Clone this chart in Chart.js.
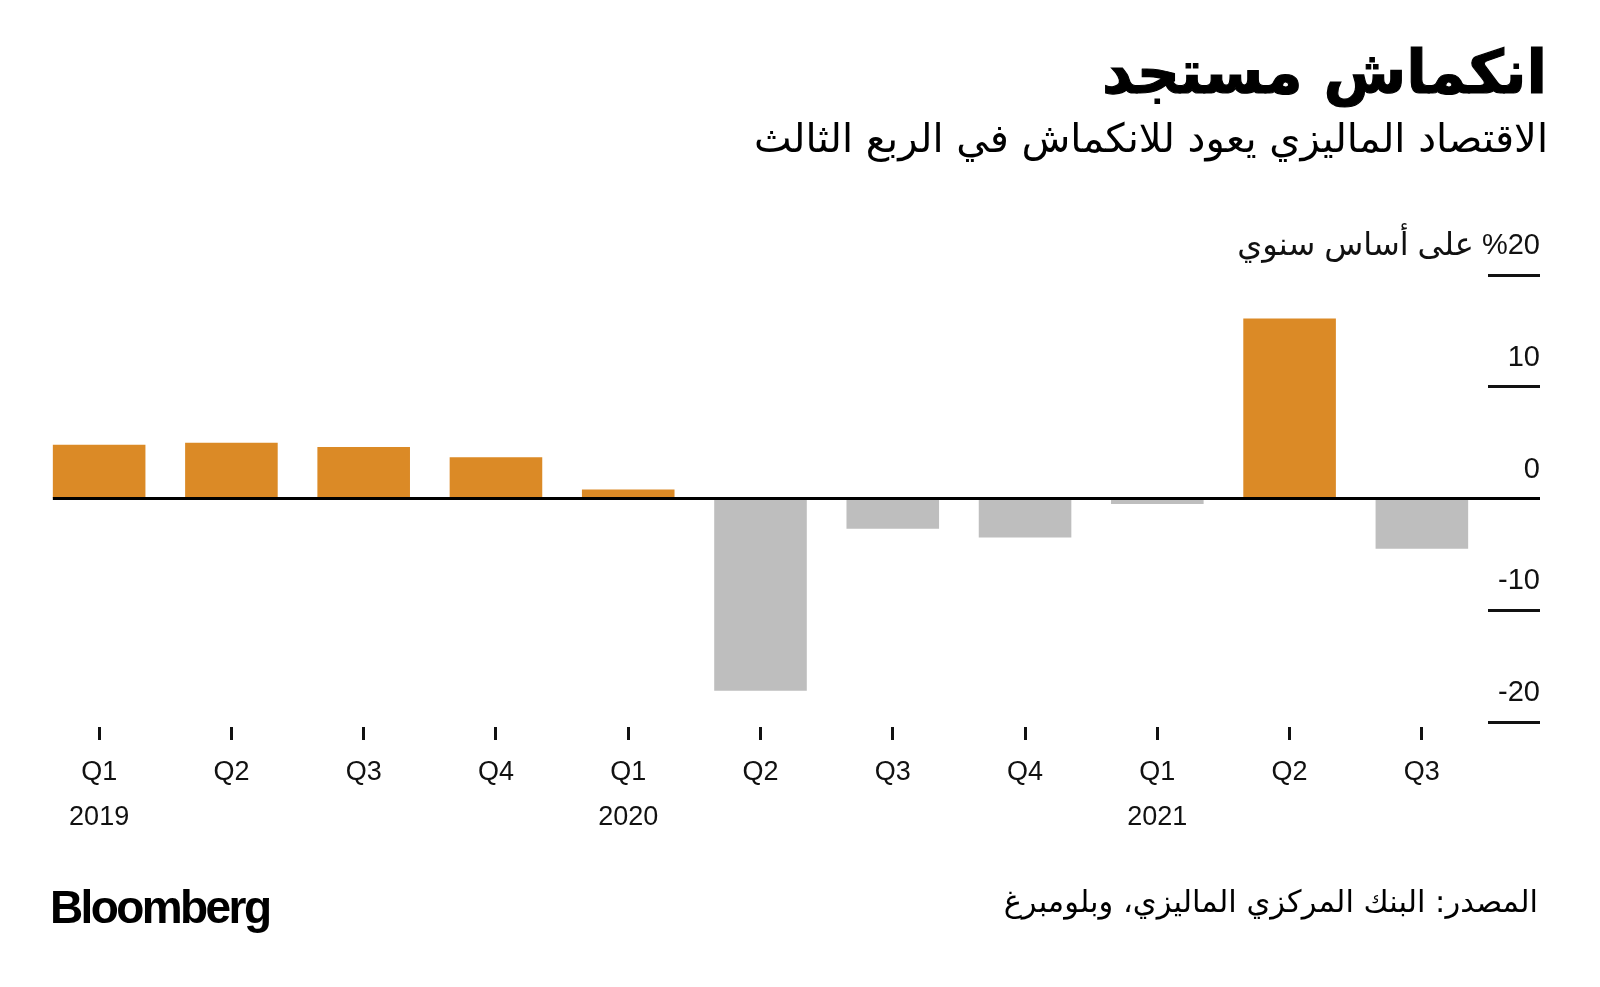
<!DOCTYPE html>
<html lang="ar">
<head>
<meta charset="UTF-8">
<title>انكماش مستجد</title>
<script src="https://cdn.jsdelivr.net/npm/chart.js"></script>
<style>
  body { margin: 0; background: #fff; }
  #wrap { position: relative; width: 1600px; height: 987px; overflow: hidden; }
  #gdpChart { position: absolute; left: 0; top: 0; }
  .txt { position: absolute; white-space: nowrap; color: #000; }
  .ar { font-family: "DejaVu Sans", sans-serif; direction: rtl; text-align: right; right: 53px; }
  #title { top: 42px; font-size: 60px; line-height: 60px; font-weight: bold; -webkit-text-stroke: 1.2px #000; }
  #subtitle { top: 118px; font-size: 40px; line-height: 40px; right: 52px; }
  #source { top: 886px; font-size: 30.5px; line-height: 31px; right: 62px; }
  #logo { left: 50px; top: 884px; font-family: "Liberation Sans", Arial, sans-serif; font-weight: bold;
          font-size: 46px; line-height: 46px; letter-spacing: -2.6px; }
</style>
</head>
<body>
<div id="wrap">
  <canvas id="gdpChart" width="1600" height="987"></canvas>
  <div id="title" class="txt ar">انكماش مستجد</div>
  <div id="subtitle" class="txt ar">الاقتصاد الماليزي يعود للانكماش في الربع الثالث</div>
  <div id="source" class="txt ar">المصدر: البنك المركزي الماليزي، وبلومبرغ</div>
  <div id="logo" class="txt">Bloomberg</div>
</div>

<script>
// data (% year on year)
const quarters = ['Q1', 'Q2', 'Q3', 'Q4', 'Q1', 'Q2', 'Q3', 'Q4', 'Q1', 'Q2', 'Q3'];
const years = ['2019', '', '', '', '2020', '', '', '', '2021', '', ''];
const gdpGrowth = [4.8, 5.0, 4.6, 3.7, 0.8, -17.2, -2.7, -3.5, -0.5, 16.1, -4.5];
const yTicks = [-20, -10, 0, 10, 20];
const yUnit = 'على أساس سنوي';

const ORANGE = '#DB8A26';
const GREY = '#BEBEBE';
const INK = '#111';
const FONT = '"Liberation Sans", "DejaVu Sans", sans-serif';
const Y_FONT = 29;
const UNIT_FONT = 32;

const labels = quarters.map((q, i) => years[i] ? [q, years[i]] : q);

Chart.defaults.font.family = FONT;
Chart.defaults.color = INK;

function yLabel(v) {
    return v === yTicks[yTicks.length - 1] ? '%' + v : String(v);
}

// black zero line from the first bar to the end of the y tick marks
const zeroLine = {
    id: 'zeroLine',
    afterDatasetsDraw(chart) {
        const y = chart.scales.y.getPixelForValue(0);
        const first = chart.getDatasetMeta(0).data[0];
        const x1 = first.x - first.width / 2;
        const x2 = chart.chartArea.right + chart.options.scales.y.grid.tickLength;
        const ctx = chart.ctx;
        ctx.save();
        ctx.strokeStyle = '#000';
        ctx.lineWidth = 3;
        ctx.beginPath();
        ctx.moveTo(x1, y);
        ctx.lineTo(x2, y);
        ctx.stroke();
        ctx.restore();
    }
};

// unit text to the left of the top tick label ("%20")
const unitLabel = {
    id: 'unitLabel',
    afterDraw(chart) {
        const s = chart.scales.y;
        const o = chart.options.scales.y.ticks;
        const top = yTicks[yTicks.length - 1];
        const ctx = chart.ctx;
        ctx.save();
        ctx.font = Y_FONT + 'px ' + FONT;
        const x = s.left + o.padding - ctx.measureText(yLabel(top) + ' ').width;
        const y = s.getPixelForValue(top) + o.labelOffset;
        ctx.font = UNIT_FONT + 'px ' + FONT;
        ctx.textAlign = 'right';
        ctx.textBaseline = 'middle';
        ctx.fillStyle = INK;
        ctx.fillText(yUnit, x, y);
        ctx.restore();
    }
};

const ctx = document.getElementById('gdpChart').getContext('2d');
new Chart(ctx, {
    type: 'bar',
    data: {
        labels: labels,
        datasets: [{
            data: gdpGrowth,
            backgroundColor: c => c.raw >= 0 ? ORANGE : GREY,
            borderWidth: 0,
            categoryPercentage: 1,
            barPercentage: 0.7
        }]
    },
    options: {
        responsive: false,
        animation: false,
        layout: { padding: { top: 275, left: 33, right: 60, bottom: 145 } },
        plugins: {
            legend: { display: false },
            tooltip: { enabled: false }
        },
        scales: {
            x: {
                grid: {
                    drawOnChartArea: false,
                    offset: false,
                    tickLength: 18,
                    tickWidth: 3,
                    tickColor: INK
                },
                // transparent border pushes the tick marks a few px below the plot
                border: { display: true, width: 10, color: 'rgba(0,0,0,0)' },
                ticks: {
                    autoSkip: false,
                    maxRotation: 0,
                    padding: 10,
                    color: INK,
                    font: { size: 27, lineHeight: 1.667 }
                },
                afterFit: s => { s.height = 120; }
            },
            y: {
                position: 'right',
                min: -20,
                max: 20,
                afterBuildTicks: s => { s.ticks = yTicks.map(v => ({ value: v })); },
                grid: {
                    drawOnChartArea: false,
                    tickLength: 52,
                    tickWidth: 3,
                    tickColor: INK
                },
                border: { display: false },
                ticks: {
                    mirror: true,
                    padding: 52,
                    labelOffset: -29,
                    color: INK,
                    font: { size: Y_FONT },
                    callback: yLabel
                },
                afterFit: s => { s.width = 52; }
            }
        }
    },
    plugins: [zeroLine, unitLabel]
});
</script>
</body>
</html>
